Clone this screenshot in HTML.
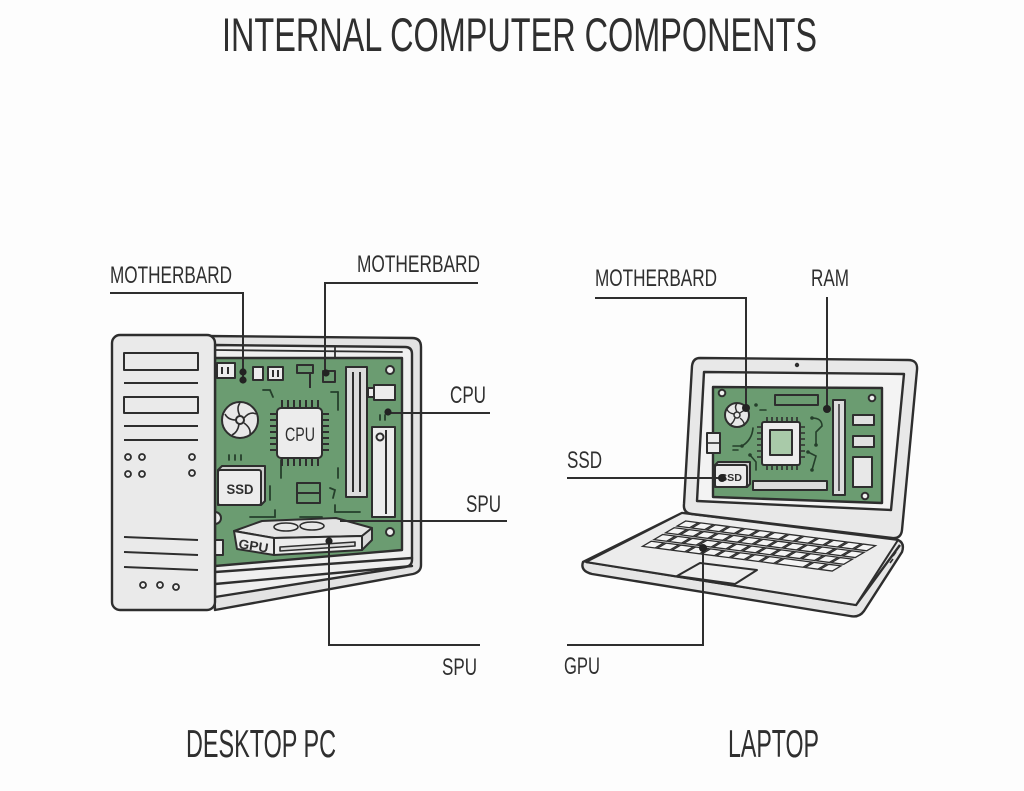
<!DOCTYPE html>
<html><head><meta charset="utf-8"><style>
html,body{margin:0;padding:0;background:#fdfdfd;}
svg{display:block;}
text{font-family:"Liberation Sans",sans-serif;fill:#2f2f2f;}
</style></head><body>
<svg width="1024" height="791" viewBox="0 0 1024 791" xmlns="http://www.w3.org/2000/svg">
<rect width="1024" height="791" fill="#fdfdfd"/>

<!-- Title -->
<text x="222" y="51" font-size="47" textLength="595" lengthAdjust="spacingAndGlyphs">INTERNAL COMPUTER COMPONENTS</text>

<!-- ============ DESKTOP ============ -->
<g stroke="#2e2e2e" stroke-width="2.4" stroke-linejoin="round" stroke-linecap="round">
  <path d="M205 336 L412 338 Q421 338 421 347 L421 565 Q421 572 413 574 L215 610 Z" fill="#e3e3e3"/>
  <path d="M215 345 L405 347 Q412 347 412 354 L412 560 Q412 566 405 567 L215 597 Z" fill="#efefef"/>
  <line x1="215" y1="350" x2="402" y2="352" stroke-width="1.8"/>
  <line x1="335" y1="347" x2="335" y2="357" stroke-width="1.8"/>
  <path d="M215 358 L402 358 L402 550 L215 566 Z" fill="#6b9c71"/>
  <line x1="215" y1="572" x2="412" y2="558"/>
  <line x1="215" y1="584" x2="412" y2="566"/>
</g>

<g stroke="#253f2b" stroke-width="1.8" fill="none" stroke-linecap="round">
  <path d="M263 390 L270 390 L273 397"/>
  <path d="M338 392 L338 410"/>
  <path d="M331 392 L338 392"/>
  <path d="M338 468 L338 478"/>
  <path d="M330 488 L335 490 L333 498"/>
  <path d="M335 505 L335 512 L360 512"/>
  <path d="M250 517 L275 517 L275 510"/>
  <path d="M281 460 L281 478"/>
  <path d="M270 486 L270 500"/>
  <path d="M229 455 L229 460 M235 455 L235 460 M241 455 L241 460"/>
  <path d="M380 415 L380 420 M385 415 L385 420"/>
  <path d="M300 517 L322 517"/>
</g>

<g stroke="#2e2e2e" stroke-width="2" stroke-linejoin="round">
  <rect x="217" y="363" width="18" height="15" fill="#ececec"/>
  <line x1="222" y1="367" x2="222" y2="374"/><line x1="228" y1="367" x2="228" y2="374"/>
  <rect x="253" y="367" width="10" height="13" fill="#ececec"/>
  <rect x="268" y="367" width="15" height="13" fill="#ececec"/>
  <line x1="273" y1="370" x2="273" y2="377"/><line x1="278" y1="370" x2="278" y2="377"/>
  <rect x="297" y="365" width="16" height="8" fill="none"/>
  <line x1="310" y1="373" x2="310" y2="388"/>
  <rect x="323" y="371" width="12" height="11" fill="none"/>
  <rect x="346" y="367" width="21" height="130" fill="#dcdcdc"/>
  <line x1="353" y1="372" x2="353" y2="492"/><line x1="360" y1="372" x2="360" y2="492"/>
  <circle cx="390" cy="370" r="4" fill="#efefef"/>
  <rect x="374" y="385" width="21" height="15" fill="#ececec"/>
  <rect x="368" y="388" width="6" height="9" fill="#ececec"/>
  <rect x="372" y="427" width="23" height="90" fill="#ececec"/>
  <line x1="386" y1="430" x2="386" y2="514"/>
  <circle cx="380" cy="437" r="3.5" fill="#efefef"/>
  <circle cx="390" cy="532" r="4" fill="#efefef"/>
  <circle cx="240" cy="420" r="18" fill="#e8e8e8"/>
  <circle cx="240" cy="420" r="4" fill="#e8e8e8"/>
  <g fill="none" stroke-width="1.6">
    <path d="M240 416 Q236 408 240 403"/>
    <path d="M244 418 Q250 411 256 414"/>
    <path d="M244 423 Q251 428 250 434"/>
    <path d="M239 424 Q238 432 232 435"/>
    <path d="M236 420 Q228 420 225 414"/>
  </g>
  <g stroke-width="2">
    <path d="M282 400 V407 M288 400 V407 M294 400 V407 M300 400 V407 M306 400 V407 M312 400 V407 M318 400 V407"/>
    <path d="M282 459 V466 M288 459 V466 M294 459 V466 M300 459 V466 M306 459 V466 M312 459 V466 M318 459 V466"/>
    <path d="M270 414 H276 M270 420 H276 M270 426 H276 M270 432 H276 M270 438 H276 M270 444 H276 M270 450 H276"/>
    <path d="M323 414 H329 M323 420 H329 M323 426 H329 M323 432 H329 M323 438 H329 M323 444 H329 M323 450 H329"/>
  </g>
  <rect x="277" y="408" width="45" height="50" rx="4" fill="#ececec"/>
  <path d="M222 466 L265 466 L265 501 L261 505 L218 505 L218 470 Z" fill="#d0d0d0"/>
  <rect x="218" y="470" width="43" height="35" rx="2" fill="#ececec"/>
  <rect x="297" y="483" width="23" height="20" fill="none"/>
  <line x1="297" y1="493" x2="320" y2="493"/>
  <path d="M215 512 A6 6 0 0 1 215 524" fill="#ececec"/>
  <rect x="215" y="540" width="8" height="15" fill="#ececec"/>
  <path d="M234 531 L262 521 L336 518 L372 528 L362 536 L274 538 Z" fill="#e4e4e4"/>
  <ellipse cx="286" cy="527" rx="12" ry="4" fill="#e8e8e8" stroke-width="1.6"/>
  <ellipse cx="312" cy="526" rx="12" ry="4" fill="#e8e8e8" stroke-width="1.6"/>
  <path d="M234 531 L274 538 L274 555 L237 549 Z" fill="#ececec"/>
  <path d="M274 538 L362 536 L362 550 L274 555 Z" fill="#ececec"/>
  <path d="M280 547 L355 542 L355 546 L280 551 Z" fill="#ddd" stroke-width="1.6"/>
  <path d="M362 536 L372 528 L372 540 L362 550 Z" fill="#d8d8d8"/>
</g>
<text x="300" y="441" font-size="19" text-anchor="middle" textLength="30" lengthAdjust="spacingAndGlyphs">CPU</text>
<text x="240" y="494" font-size="14" font-weight="bold" text-anchor="middle" textLength="27" lengthAdjust="spacingAndGlyphs">SSD</text>
<text x="238" y="548" font-size="13" font-weight="bold" transform="rotate(9 238 548)" textLength="30" lengthAdjust="spacingAndGlyphs">GPU</text>

<g stroke="#2e2e2e" stroke-width="2.4" stroke-linejoin="round">
  <rect x="112" y="335" width="103" height="275" rx="8" fill="#eaeaea"/>
  <rect x="124" y="353" width="74" height="17" fill="#eaeaea" stroke-width="2"/>
  <line x1="124" y1="383" x2="198" y2="383" stroke-width="2"/>
  <rect x="124" y="397" width="74" height="16" fill="#eaeaea" stroke-width="2"/>
  <line x1="124" y1="426" x2="198" y2="426" stroke-width="2"/>
  <line x1="124" y1="440" x2="198" y2="440" stroke-width="2"/>
  <g fill="#eaeaea" stroke-width="1.8">
    <circle cx="128" cy="457" r="3"/><circle cx="142" cy="457" r="3"/>
    <circle cx="128" cy="474" r="3"/><circle cx="142" cy="474" r="3"/>
    <circle cx="192" cy="457" r="3"/><circle cx="192" cy="473" r="3"/>
    <circle cx="143" cy="585" r="3"/><circle cx="160" cy="585" r="3"/><circle cx="176" cy="587" r="3"/>
  </g>
  <line x1="124" y1="537" x2="198" y2="540" stroke-width="2"/>
  <line x1="124" y1="552" x2="198" y2="555" stroke-width="2"/>
  <line x1="124" y1="567" x2="198" y2="570" stroke-width="2"/>
</g>

<!-- ============ LAPTOP ============ -->
<g stroke="#2e2e2e" stroke-width="2.4" stroke-linejoin="round">
  <path d="M682 513 L898 540 Q905 543 902 552 L864 611 Q859 618 850 616 L592 574 Q580 571 583 562 Z" fill="#e6e6e6"/>
  <path d="M586 562 L856 605 L900 545" fill="none"/>
  <path d="M682 513 L898 540 L856 605 L586 562 Z" fill="#ececec" stroke-width="2"/>
  <path d="M893 556 L896 552 M890 563 L893 559" stroke-width="1.6"/>
  <path d="M700 358 L908 360 Q918 360 917 370 L902 530 Q901 539 892 538 L692 514 Q683 513 684 504 L692 366 Q693 358 700 358 Z" fill="#e8e8e8"/>
  <path d="M704 372 L904 374 L891 510 L697 501 Z" fill="#f3f3f3"/>
  <path d="M713 387 L882 388 L882 503 L713 497 Z" fill="#6b9c71"/>
</g>
<circle cx="797" cy="365" r="2.2" fill="#2e2e2e"/>

<!-- keyboard -->
<g transform="matrix(192 25 -46 27 686 520)" fill="#f4f4f4" stroke="#2e2e2e" stroke-width="1.3">
  <g id="row">
    <rect x="0.006" y="0.03" width="0.066" height="0.19" vector-effect="non-scaling-stroke"/>
    <rect x="0.083" y="0.03" width="0.066" height="0.19" vector-effect="non-scaling-stroke"/>
    <rect x="0.160" y="0.03" width="0.066" height="0.19" vector-effect="non-scaling-stroke"/>
    <rect x="0.237" y="0.03" width="0.066" height="0.19" vector-effect="non-scaling-stroke"/>
    <rect x="0.314" y="0.03" width="0.066" height="0.19" vector-effect="non-scaling-stroke"/>
    <rect x="0.391" y="0.03" width="0.066" height="0.19" vector-effect="non-scaling-stroke"/>
    <rect x="0.468" y="0.03" width="0.066" height="0.19" vector-effect="non-scaling-stroke"/>
    <rect x="0.545" y="0.03" width="0.066" height="0.19" vector-effect="non-scaling-stroke"/>
    <rect x="0.622" y="0.03" width="0.066" height="0.19" vector-effect="non-scaling-stroke"/>
    <rect x="0.699" y="0.03" width="0.066" height="0.19" vector-effect="non-scaling-stroke"/>
    <rect x="0.776" y="0.03" width="0.066" height="0.19" vector-effect="non-scaling-stroke"/>
    <rect x="0.853" y="0.03" width="0.066" height="0.19" vector-effect="non-scaling-stroke"/>
    <rect x="0.930" y="0.03" width="0.064" height="0.19" vector-effect="non-scaling-stroke"/>
  </g>
  <use href="#row" y="0.25"/>
  <use href="#row" y="0.5"/>
  <g transform="translate(0 0.75)">
    <rect x="0.006" y="0.03" width="0.066" height="0.19" vector-effect="non-scaling-stroke"/>
    <rect x="0.083" y="0.03" width="0.066" height="0.19" vector-effect="non-scaling-stroke"/>
    <rect x="0.160" y="0.03" width="0.066" height="0.19" vector-effect="non-scaling-stroke"/>
    <rect x="0.237" y="0.03" width="0.066" height="0.19" vector-effect="non-scaling-stroke"/>
    <rect x="0.314" y="0.03" width="0.066" height="0.19" vector-effect="non-scaling-stroke"/>
    <rect x="0.391" y="0.03" width="0.066" height="0.19" vector-effect="non-scaling-stroke"/>
    <rect x="0.468" y="0.03" width="0.066" height="0.19" vector-effect="non-scaling-stroke"/>
    <rect x="0.545" y="0.03" width="0.066" height="0.19" vector-effect="non-scaling-stroke"/>
    <rect x="0.622" y="0.03" width="0.066" height="0.19" vector-effect="non-scaling-stroke"/>
    <rect x="0.699" y="0.03" width="0.143" height="0.19" vector-effect="non-scaling-stroke"/>
    <rect x="0.853" y="0.03" width="0.066" height="0.19" vector-effect="non-scaling-stroke"/>
    <rect x="0.930" y="0.03" width="0.064" height="0.19" vector-effect="non-scaling-stroke"/>
  </g>
</g>
<path d="M700 563 L757 570 L735 584 L677 576 Z" fill="#eeeeee" stroke="#2e2e2e" stroke-width="2" stroke-linejoin="round"/>

<g stroke="#253f2b" stroke-width="1.6" fill="none" stroke-linecap="round">
  <path d="M753 428 Q752 440 742 446"/>
  <path d="M812 418 Q822 418 822 426 L816 432 L816 445"/>
  <path d="M808 452 L816 456 L812 470"/>
  <path d="M750 455 L756 462 L756 470"/>
  <path d="M733 446 L740 446 M733 450 L738 450"/>
  <path d="M760 410 L766 410"/>
</g>
<g fill="#253f2b">
  <circle cx="742" cy="446" r="1.8"/><circle cx="812" cy="418" r="1.8"/>
  <circle cx="816" cy="445" r="1.8"/><circle cx="808" cy="452" r="1.8"/>
  <circle cx="750" cy="455" r="1.8"/><circle cx="812" cy="470" r="1.8"/>
  <circle cx="756" cy="405" r="1.8"/>
</g>
<g stroke="#2e2e2e" stroke-width="2" stroke-linejoin="round">
  <circle cx="722" cy="393" r="3.3" fill="#f0f0f0"/>
  <circle cx="872" cy="398" r="3.3" fill="#f0f0f0"/>
  <circle cx="865" cy="496" r="3.3" fill="#f0f0f0"/>
  <circle cx="737" cy="415" r="12" fill="#e8e8e8"/>
  <circle cx="737" cy="415" r="3" fill="#e8e8e8" stroke-width="1.5"/>
  <g fill="none" stroke-width="1.4">
    <path d="M737 412 Q734 406 737 404"/><path d="M740 413 Q745 409 748 411"/>
    <path d="M740 418 Q745 422 744 426"/><path d="M735 418 Q733 424 729 425"/>
    <path d="M734 414 Q728 413 727 409"/>
  </g>
  <rect x="775" y="395" width="43" height="10" fill="#6b9c71"/>
  <rect x="833" y="400" width="12" height="95" fill="#dcdcdc"/>
  <line x1="839" y1="404" x2="839" y2="491" stroke-width="1.5"/>
  <rect x="853" y="415" width="21" height="10" fill="#e0e0e0"/>
  <rect x="853" y="436" width="21" height="11" fill="#e0e0e0"/>
  <rect x="853" y="457" width="19" height="30" fill="#e8e8e8"/>
  <path d="M767 417 V421 M772 417 V421 M777 417 V421 M782 417 V421 M787 417 V421 M792 417 V421 M797 417 V421" stroke-width="1.6"/>
  <path d="M767 466 V470 M772 466 V470 M777 466 V470 M782 466 V470 M787 466 V470 M792 466 V470 M797 466 V470" stroke-width="1.6"/>
  <path d="M757 427 H761 M757 433 H761 M757 439 H761 M757 445 H761 M757 451 H761 M757 457 H761" stroke-width="1.6"/>
  <path d="M801 427 H805 M801 433 H805 M801 439 H805 M801 445 H805 M801 451 H805 M801 457 H805" stroke-width="1.6"/>
  <rect x="762" y="422" width="38" height="43" rx="2" fill="#ececec"/>
  <rect x="770" y="430" width="22" height="25" fill="#a9caa9"/>
  <path d="M718 462 L750 462 L750 484 L747 487 L715 487 L715 465 Z" fill="#d0d0d0"/>
  <rect x="715" y="465" width="32" height="22" rx="2" fill="#ececec"/>
  <rect x="753" y="481" width="74" height="9" fill="#dcdcdc"/>
  <rect x="707" y="433" width="13" height="20" fill="#ececec"/>
  <line x1="707" y1="443" x2="720" y2="443" stroke-width="1.6"/>
</g>
<text x="731" y="481" font-size="10" font-weight="bold" text-anchor="middle" textLength="22" lengthAdjust="spacingAndGlyphs">SSD</text>

<!-- ============ LEADERS ============ -->
<g stroke="#2e2e2e" stroke-width="2" fill="none">
  <path d="M110 293 H243 V380"/>
  <path d="M478 283 H325 V373"/>
  <path d="M388 413 H490"/>
  <path d="M340 521 H507"/>
  <path d="M329 541 V645 H480"/>
  <path d="M595 298 H746 V408"/>
  <path d="M827 297 V409"/>
  <path d="M567 478 H722"/>
  <path d="M567 645 H703 V548"/>
</g>
<g fill="#222">
  <circle cx="243" cy="372" r="3.6"/><circle cx="243" cy="380" r="3.6"/>
  <circle cx="326" cy="373" r="3.6"/>
  <circle cx="388" cy="412" r="3.6"/>
  <circle cx="329" cy="541" r="3.6"/>
  <circle cx="746" cy="408" r="4"/>
  <circle cx="827" cy="409" r="4"/>
  <circle cx="722" cy="478" r="4"/>
  <circle cx="703" cy="548" r="4"/>
</g>

<g font-size="24">
  <text x="110" y="283" textLength="122" lengthAdjust="spacingAndGlyphs">MOTHERBARD</text>
  <text x="357" y="272" textLength="123" lengthAdjust="spacingAndGlyphs">MOTHERBARD</text>
  <text x="450" y="403" textLength="36" lengthAdjust="spacingAndGlyphs">CPU</text>
  <text x="466" y="512" textLength="35" lengthAdjust="spacingAndGlyphs">SPU</text>
  <text x="442" y="675" textLength="35" lengthAdjust="spacingAndGlyphs">SPU</text>
  <text x="595" y="286" textLength="122" lengthAdjust="spacingAndGlyphs">MOTHERBARD</text>
  <text x="811" y="286" textLength="38" lengthAdjust="spacingAndGlyphs">RAM</text>
  <text x="567" y="468" textLength="35" lengthAdjust="spacingAndGlyphs">SSD</text>
  <text x="564" y="674" textLength="36" lengthAdjust="spacingAndGlyphs">GPU</text>
</g>
<text x="186" y="757" font-size="39" textLength="150" lengthAdjust="spacingAndGlyphs">DESKTOP PC</text>
<text x="728" y="757" font-size="39" textLength="91" lengthAdjust="spacingAndGlyphs">LAPTOP</text>
</svg>
</body></html>
